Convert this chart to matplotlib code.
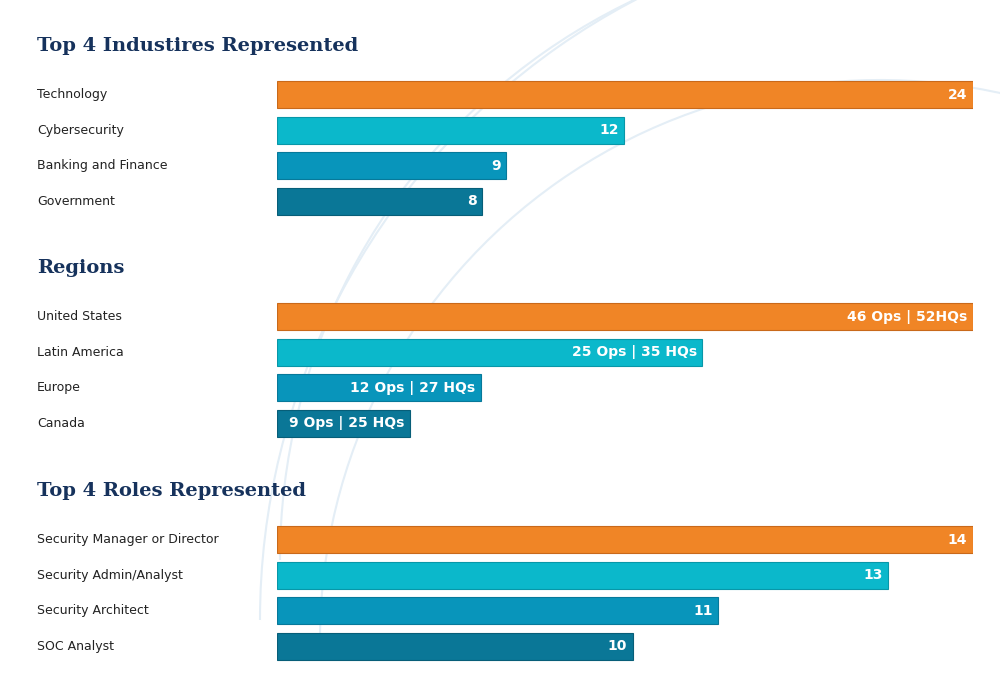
import matplotlib
matplotlib.use("Agg")
import matplotlib.pyplot as plt
from matplotlib.patches import Arc
import numpy as np

titles = ["Top 4 Industires Represented", "Regions", "Top 4 Roles Represented"]
cats = [["Technology", "Cybersecurity", "Banking and Finance", "Government"],
        ["United States", "Latin America", "Europe", "Canada"],
        ["Security Manager or Director", "Security Admin/Analyst", "Security Architect", "SOC Analyst"]]
value_labels = [["24", "12", "9", "8"],
                ["46 Ops | 52HQs", "25 Ops | 35 HQs", "12 Ops | 27 HQs", "9 Ops | 25 HQs"],
                ["14", "13", "11", "10"]]
# bar extents as drawn (in % of the longest bar)
bar_extent = [[100, 49.9, 32.9, 29.5],
              [100, 61.1, 29.3, 19.1],
              [100, 87.8, 63.4, 51.1]]
colors = ["#F08526", "#0BB8CB", "#0895BB", "#0A7797"]
edges = ["#C9691A", "#0897A8", "#07799A", "#075E78"]

fig = plt.figure(figsize=(10, 6.83), dpi=100)
fig.patch.set_facecolor("white")
bg = fig.add_axes([0, 0, 1, 1]); bg.set_xlim(0, 1000); bg.set_ylim(683, 0); bg.axis("off")
for r, c in [(620, (900, 560)), (700, (960, 620)), (560, (880, 640))]:
    bg.add_patch(Arc(c, 2*r, 2*r, theta1=180, theta2=290, color="#E4EEF6", lw=1.5))

H = 683.0
tops = [77, 299, 522]
title_y = [46, 268, 491]
for s in range(3):
    ax = fig.add_axes([0.277, 1 - (tops[s] + 142) / H, 0.696, 142 / H])
    y = np.arange(4)
    ax.barh(y, bar_extent[s], height=0.77, color=colors, edgecolor=edges, linewidth=0.8)
    ax.set_xlim(0, 100); ax.set_ylim(3.5, -0.5); ax.axis("off")
    for i in range(4):
        ax.text(bar_extent[s][i] - 0.8, y[i], value_labels[s][i], color="white",
                fontweight="bold", fontsize=10, ha="right", va="center")
        ax.text(-240 / 696, y[i], cats[s][i], transform=ax.get_yaxis_transform(),
                fontsize=9, color="#222222", ha="left", va="center")
    fig.text(0.037, 1 - title_y[s] / H, titles[s], fontsize=14, fontweight="bold",
             family="DejaVu Serif", color="#16325C", va="center", ha="left")

fig.savefig("out.png", dpi=100)
